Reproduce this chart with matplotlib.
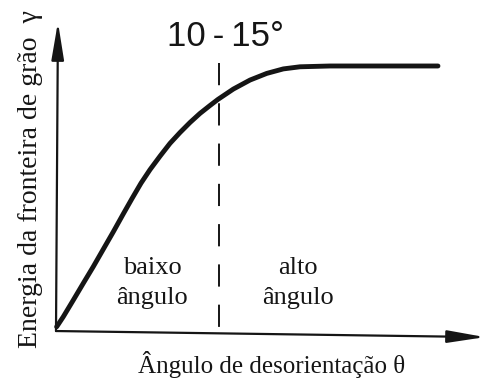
import matplotlib
matplotlib.use('Agg')
import matplotlib.pyplot as plt

# energia da fronteira vs. desorientação (esboço, gamma normalizado ao patamar)
theta = [0.05, 0.56, 1.33, 2.09, 2.86, 3.63, 4.39, 5.16, 5.83, 6.52, 7.21,
         7.98, 8.74, 9.51, 10.28, 11.04, 11.81, 12.42, 13.60, 14.88, 16.16,
         17.43, 18.71, 21.01, 29.29]
gamma = [0.016, 0.054, 0.117, 0.180, 0.243, 0.309, 0.374, 0.442, 0.500,
         0.558, 0.609, 0.660, 0.708, 0.749, 0.787, 0.821, 0.851, 0.874,
         0.913, 0.947, 0.972, 0.989, 0.997, 1.0, 1.0]
theta_c = 12.5          # transição 10-15°
x_tip = (32.9, -0.023)  # ponta da seta do eixo x
y_tip = (0.15, 1.166)   # ponta da seta do eixo y

plt.rcParams['lines.scale_dashes'] = False
ink = '#151515'
serif = 'Liberation Serif'

fig = plt.figure(figsize=(4.87, 3.79), dpi=100)
ax = fig.add_axes([0, 0, 1, 1])
ax.set_xlim(-4.294, 33.05)
ax.set_ylim(-0.181, 1.249)
ax.axis('off')

# eixos com setas
arrow = dict(arrowstyle='-|>,head_length=2.3,head_width=0.38', lw=1.6,
             color=ink, shrinkA=0, shrinkB=0, mutation_scale=10)
ax.annotate('', xy=x_tip, xytext=(0, 0), arrowprops=arrow)
ax.annotate('', xy=y_tip, xytext=(0, 0), arrowprops=arrow)

ax.plot(theta, gamma, color=ink, lw=3.5, solid_capstyle='round',
        solid_joinstyle='round')
ax.plot([theta_c, theta_c], [1.01, 0.0], color=ink, lw=1.4,
        dashes=(16, 13))

ax.text(13.0, 1.113, '10\u2009-\u200915\u00b0', ha='center', va='center',
        fontsize=25, family=['Liberation Sans', 'DejaVu Sans'], color=ink)
ax.text(7.36, 0.238, 'baixo', ha='center', va='center', fontsize=19,
        family=serif, color=ink)
ax.text(7.36, 0.125, '\u00e2ngulo', ha='center', va='center', fontsize=19,
        family=serif, color=ink)
ax.text(18.56, 0.238, 'alto', ha='center', va='center', fontsize=19,
        family=serif, color=ink)
ax.text(18.56, 0.125, '\u00e2ngulo', ha='center', va='center', fontsize=19,
        family=serif, color=ink)

ax.text(16.53, -0.127, '\u00c2ngulo de desorienta\u00e7\u00e3o \u03b8',
        ha='center', va='center', fontsize=18, family=serif, color=ink)
ax.text(-1.99, 0.575, 'Energia da fronteira de gr\u00e3o  \u03b3',
        ha='center', va='center', rotation=90, fontsize=20, family=serif,
        color=ink)

fig.savefig('out.png', dpi=100)
